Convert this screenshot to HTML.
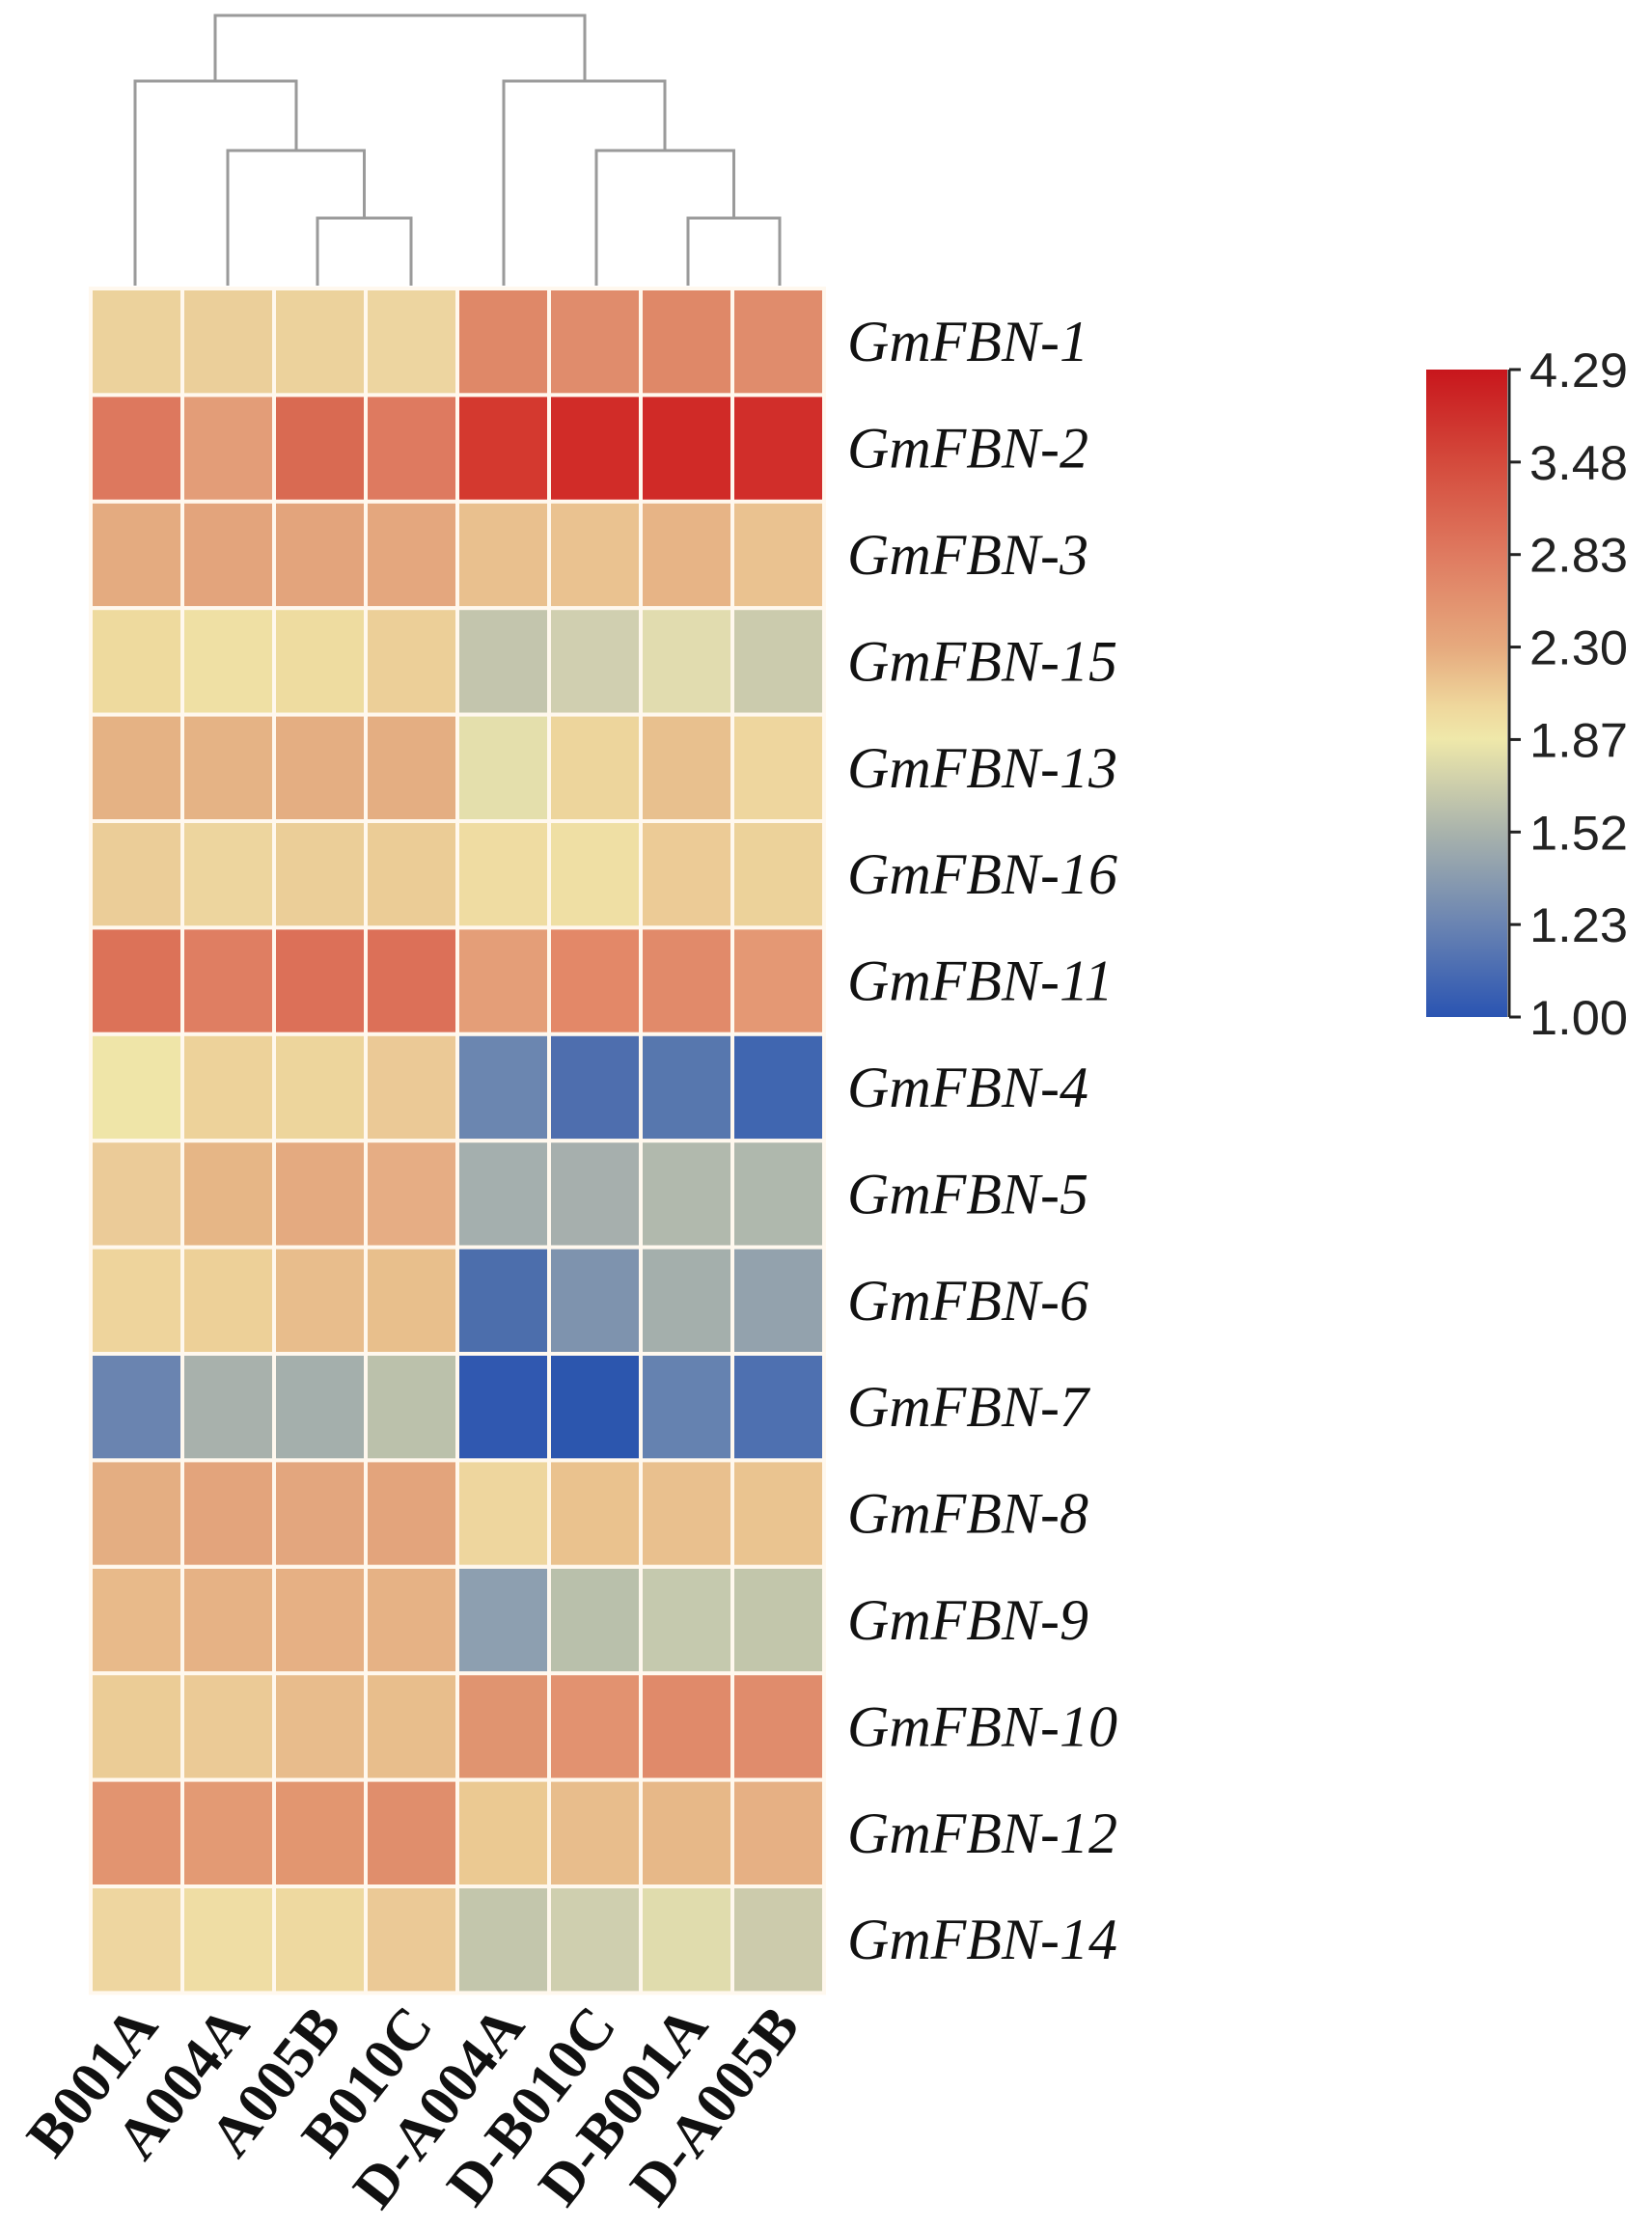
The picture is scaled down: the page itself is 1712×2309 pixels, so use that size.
<!DOCTYPE html>
<html><head><meta charset="utf-8"><style>
html,body{margin:0;padding:0;background:#fff;}
svg{display:block;}
</style></head><body>
<svg width="1712" height="2309" viewBox="0 0 1712 2309" xmlns="http://www.w3.org/2000/svg">
<defs>
<linearGradient id="cb" x1="0" y1="0" x2="0" y2="1">
<stop offset="0" stop-color="#c8161c"/>
<stop offset="0.143" stop-color="#d44a3c"/>
<stop offset="0.286" stop-color="#df7a60"/>
<stop offset="0.43" stop-color="#e6aa7e"/>
<stop offset="0.52" stop-color="#efd79c"/>
<stop offset="0.571" stop-color="#efe8aa"/>
<stop offset="0.714" stop-color="#a9b3ac"/>
<stop offset="0.857" stop-color="#6a84b2"/>
<stop offset="1" stop-color="#2a54b2"/>
</linearGradient>
</defs>
<g stroke="#9a9a9a" stroke-width="3" fill="none">
<path d="M140,296 V84 H307 V156 M236,296 V156 H377.5 V226 M329,296 V226 H426 V296"/>
<path d="M223,84 V16 H606 V84"/>
<path d="M522,296 V84 H689 V156 M618,296 V156 H760.5 V226 M713,296 V226 H808 V296"/>
</g>
<g id="hm" stroke="#fff8ee" stroke-width="4"></g>
<g font-family="'Liberation Serif',serif" font-style="italic" font-size="60" fill="#111" id="rl"></g>
<rect x="1478" y="383" width="84" height="671" fill="url(#cb)"/>
<line x1="1564" y1="383" x2="1564" y2="1054" stroke="#222" stroke-width="3"/>
<g id="cbt" font-family="'Liberation Sans',sans-serif" font-size="50" fill="#222"></g>
<g id="cl" font-family="'Liberation Serif',serif" font-weight="bold" font-size="61" fill="#111"></g>
</svg>
<script>
var rows=[
["GmFBN-1","#ecd29c,#ebcf9a,#ecd29c,#edd5a0,#df8868,#e08c6c,#df8868,#e08c6c"],
["GmFBN-2","#dd785e,#e39d78,#d96a52,#de7a60,#d4392f,#d12c28,#d02a27,#d12e2a"],
["GmFBN-3","#e4ab80,#e3a47c,#e3a47c,#e4a77e,#e9c08e,#eac290,#e7b486,#eac290"],
["GmFBN-15","#eeda9e,#efe0a4,#eedca0,#eccf98,#c3c5ad,#d0cfb0,#e1dcaf,#cbcbad"],
["GmFBN-13","#e5b284,#e5b385,#e4ae82,#e4ae82,#e4dfac,#edd59c,#e8c08e,#eed69e"],
["GmFBN-16","#ebcd98,#edd59e,#ebce98,#ebcc96,#efdca2,#efdfa4,#eccb96,#ecd29a"],
["GmFBN-11","#dc7258,#df7e62,#dc7058,#dc7058,#e49e78,#e38868,#e18a6a,#e49874"],
["GmFBN-4","#efe5a8,#edd29a,#edd59c,#ebc996,#6b86b0,#4e6eae,#5777ae,#4066b0"],
["GmFBN-5","#ebcb98,#e6b686,#e4aa80,#e6ad84,#a4afae,#a6afad,#b1b9ad,#afb8ad"],
["GmFBN-6","#eed49c,#edd098,#e8bd8c,#e8bf8c,#4c6eac,#7e93ae,#a4afac,#93a2ad"],
["GmFBN-7","#6a84b0,#a8b1ac,#a4afac,#bbc1ab,#3058b0,#2c56ae,#6582b0,#4e70b0"],
["GmFBN-8","#e4ae82,#e3a47c,#e3a67e,#e3a47c,#eed69e,#eac28e,#e9c08e,#eac490"],
["GmFBN-9","#e8ba8a,#e6b285,#e6b084,#e6b285,#8d9fb0,#b9c0ab,#c5c9ae,#c2c6ab"],
["GmFBN-10","#ebcc96,#ebca96,#e8bc8c,#e8be8c,#e09470,#e29270,#e08a6a,#e08c6c"],
["GmFBN-12","#e29470,#e39a74,#e29670,#e08e6c,#ebc992,#e8bd8c,#e7b888,#e6b084"],
["GmFBN-14","#eed6a0,#efdda4,#eed9a0,#ebc996,#c3c6ac,#cfcfaf,#e0dcad,#cccbac"]];
var NS="http://www.w3.org/2000/svg";
function el(t,a,p,txt){var e=document.createElementNS(NS,t);for(var k in a)e.setAttribute(k,a[k]);if(txt)e.textContent=txt;p.appendChild(e);return e;}
var x0=94,y0=299,cw=95,rh=110.4;
var hm=document.getElementById("hm"),rl=document.getElementById("rl");
rows.forEach(function(r,i){var c=r[1].split(",");
 c.forEach(function(col,j){el("rect",{x:x0+j*cw,y:y0+i*rh,width:cw,height:rh,fill:col},hm);});
 el("text",{x:878,y:y0+i*rh+rh/2+20},rl,r[0]);});
var ticks=["4.29","3.48","2.83","2.30","1.87","1.52","1.23","1.00"];
var cbt=document.getElementById("cbt");
ticks.forEach(function(t,i){var y=383+i*671/7;
 el("line",{x1:1564,y1:y,x2:1576,y2:y,stroke:"#222","stroke-width":3},cbt);
 el("text",{x:1585,y:y+18,textLength:102,lengthAdjust:"spacingAndGlyphs"},cbt,t);});
var cols=["B001A","A004A","A005B","B010C","D-A004A","D-B010C","D-B001A","D-A005B"];
var cl=document.getElementById("cl");
cols.forEach(function(t,j){var cx=x0+j*cw+cw/2+24,cy=2100;
 el("text",{x:cx,y:cy,"text-anchor":"end",transform:"rotate(-52 "+cx+" "+cy+")"},cl,t);});
</script>
</body></html>
